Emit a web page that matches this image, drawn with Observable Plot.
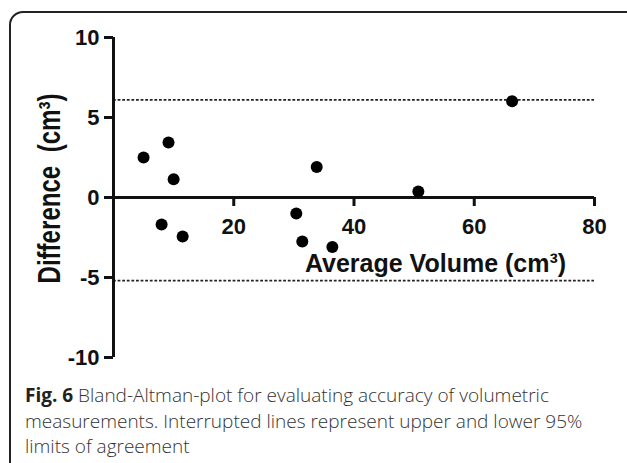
<!DOCTYPE html>
<html><head><meta charset="utf-8">
<script src="https://cdn.jsdelivr.net/npm/d3@7"></script>
<script src="https://cdn.jsdelivr.net/npm/@observablehq/plot@0.6"></script>
<style>
html,body{margin:0;padding:0;background:#fff;}
#wrap{position:relative;width:627px;height:463px;overflow:hidden;background:#fff;}
#card{position:absolute;left:9px;top:11px;width:640px;height:480px;border:2px solid #222;border-radius:14px;box-sizing:border-box;}
#chart{position:absolute;left:0;top:0;}
#caption{position:absolute;left:25px;top:383px;width:600px;font-family:"Open Sans",sans-serif;font-size:19px;font-weight:300;line-height:25.5px;color:#333;white-space:nowrap;}
#caption b{color:#222;font-weight:700;}
</style></head><body>
<div id="wrap"><div id="card"></div><div id="chart"></div>
<div id="caption"><b>Fig. 6</b> Bland-Altman-plot for evaluating accuracy of volumetric<br>measurements. Interrupted lines represent upper and lower 95%<br>limits of agreement</div></div>
<script>
const avgVolume = [5.0, 9.15, 10.0, 8.0, 11.5, 30.4, 33.8, 31.4, 36.4, 50.7, 66.3];
const difference = [2.5, 3.44, 1.14, -1.69, -2.44, -1.0, 1.9, -2.75, -3.1, 0.38, 6.02];
const limits = [6.1, -5.2];
const xDomain = [0, 80];
const yDomain = [-10, 10];
const xTicks = [20, 40, 60, 80];
const yTicks = [-10, -5, 0, 5, 10];
const xLabel = "Average Volume (cm³)";
const yLabel = "Difference  (cm³)";

const data = avgVolume.map((x, i) => ({x, y: difference[i]}));

const chart = Plot.plot({
  width: 627, height: 375,
  marginLeft: 113, marginRight: 33, marginTop: 37, marginBottom: 18,
  x: {domain: xDomain, axis: null},
  y: {domain: yDomain},
  style: {fontFamily: "'Liberation Sans', Arial, sans-serif", fontWeight: "bold", background: "transparent", color: "#111"},
  marks: [
    Plot.ruleY(limits, {x1: xDomain[0], x2: xDomain[1], stroke: "#222", strokeWidth: 1.8, strokeDasharray: "2.8,1.8"}),
    Plot.axisY({ticks: yTicks, tickSize: 9, tickPadding: 5, fontSize: 22, strokeWidth: 3, label: null, tickFormat: d => String(d)}),
    Plot.ruleX([xDomain[0]], {y1: yDomain[0], y2: yDomain[1], strokeWidth: 3, stroke: "#111"}),
    Plot.ruleY([0], {x1: xDomain[0], x2: xDomain[1], strokeWidth: 3, stroke: "#111"}),
    Plot.ruleX(xTicks, {y1: 0, y2: 0, insetBottom: -9, strokeWidth: 3, stroke: "#111"}),
    Plot.text(xTicks, {x: d => d, y: 0, dy: 29, text: d => String(d), fontSize: 22, fill: "#111"}),
    Plot.dot(data, {x: "x", y: "y", r: 6, fill: "#000", stroke: null}),
    Plot.text([xLabel], {frameAnchor: "middle", dx: 81.5, dy: 66, fontSize: 25, fill: "#111", text: d => d}),
    Plot.text([yLabel], {frameAnchor: "left", textAnchor: "middle", rotate: -90, dx: -63, dy: -9, fontSize: 31, fill: "#111", text: d => d})
  ]
});
document.getElementById("chart").appendChild(chart);
chart.querySelectorAll("text").forEach(t => {
  if (t.textContent === yLabel) { t.setAttribute("textLength", 190); t.setAttribute("lengthAdjust", "spacingAndGlyphs"); }
});
</script>
</body></html>
